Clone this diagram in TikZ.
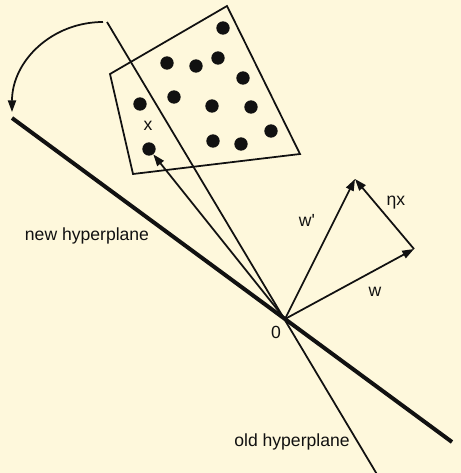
\documentclass[tikz,border=0pt]{standalone}
\usepackage{fontspec}
\setmainfont{Liberation Sans}
\usetikzlibrary{arrows.meta,positioning}
\definecolor{paper}{HTML}{FEF8DC}
\definecolor{ink}{HTML}{111111}
\tikzset{
 every node/.append style={font=\fontsize{15}{18}\selectfont,text=ink},
 plane/.style={draw=ink,line width=1.5pt},
 newplane/.style={draw=ink,line width=3.4pt},
 frame/.style={draw=ink,line width=1.5pt,line join=miter},
 dot/.style={circle,fill=ink,inner sep=0pt,minimum size=0.4cm},
 vec/.style={-{Triangle[length=10pt,width=7pt]},draw=ink,line width=1.5pt},
 word/.style={inner sep=1pt},
}
\begin{document}
\begin{tikzpicture}[x=0.03cm,y=-0.03cm]
\fill[paper] (0,0) rectangle (461,473);
\useasboundingbox (0,0) rectangle (461,473);

% origin and hyperplanes
\coordinate (O) at (285,319);
\coordinate (oldtop) at (107,22);
\coordinate (oldbot) at (378,476);
\coordinate (newtop) at (12,118);
\coordinate (newbot) at (452,442);
\draw[plane] (oldtop) -- (oldbot);
\draw[newplane] (newtop) -- (newbot);

% rotation of the hyperplane
\coordinate (arcstart) at (103,22);
\coordinate (arcend) at (12,112);
\draw[vec] (arcstart) .. controls (52,22) and (12,61) .. (arcend);

% sample region
\draw[frame] (110,74) -- (227,6) -- (300,154) -- (133,174) -- cycle;
\foreach \px/\py [count=\i] in {223/28,167/63,196/66,218/58,243/78,140/104,174/97,
  212/106,251/107,271/131,213/141,241/144,149/149}
  \node[dot] (p\i) at (\px,\py) {};
\node[word] (xlabel) at (148,126) {x};

% weight vectors
\coordinate (w) at (414,249);
\coordinate (wp) at (355,179);
\draw[vec] (O) -- (p13);
\draw[vec] (O) -- (w);
\draw[vec] (O) -- (wp);
\draw[vec] (w) -- (wp);

\node[word] (wlabel) at (375,292) {w};
\node[word] (wplabel) at (307,220) {w\textquotesingle};
\node[word] (etalabel) at (396,203) {ηx};
\node[word] (zero) at (276,332) {0};
\node[word] (newlabel) at (87,236) {new hyperplane};
\node[word] (oldlabel) at (292,442) {old hyperplane};
\end{tikzpicture}
\end{document}
